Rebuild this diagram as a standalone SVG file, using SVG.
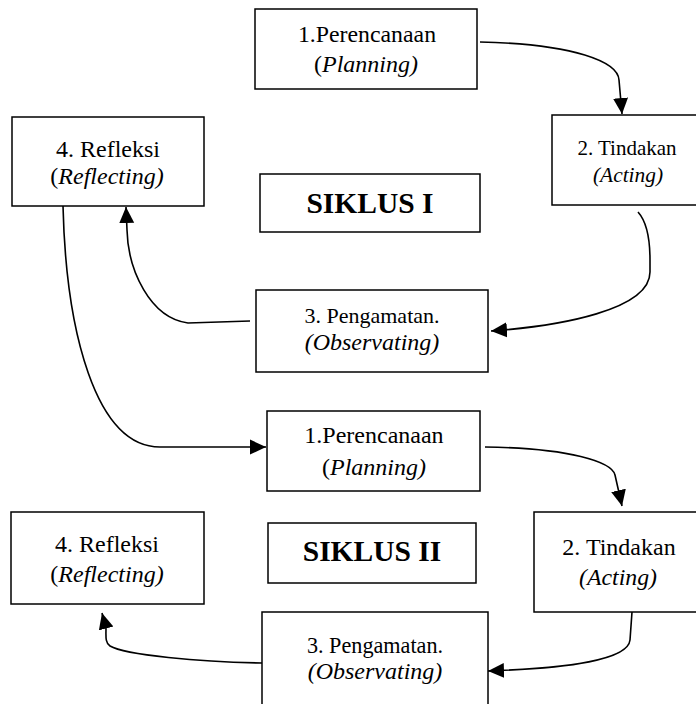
<svg xmlns="http://www.w3.org/2000/svg" width="696" height="704" viewBox="0 0 696 704">
<defs>
<style>
.box{fill:#fff;stroke:#000;stroke-width:1.5}
.t{fill:#000;text-anchor:middle}
.i{font-style:italic}
.b{font-weight:bold;font-size:29.5px}
.c{fill:none;stroke:#000;stroke-width:1.6}
</style>
<marker id="ah" markerUnits="userSpaceOnUse" markerWidth="18" markerHeight="16" refX="16" refY="8" orient="auto">
<path d="M0,0.5 L16,8 L0,15.5 z" fill="#000"/>
</marker>
</defs>
<rect width="696" height="704" fill="#fff"/>

<g id="connectors">
<path class="c" d="M480,42 C575,44 618,62 619,80 L622,114" marker-end="url(#ah)"/>
<path class="c" d="M638,212 C647,222 650,240 650,260 L650,272 C650,310 560,326 491,331" marker-end="url(#ah)"/>
<path class="c" d="M250,321 L188,323 C150,318 128,270 127,230 L126,207" marker-end="url(#ah)"/>
<path class="c" d="M63,206 C66,330 95,447 160,447 L266,447" marker-end="url(#ah)"/>
<path class="c" d="M485,447 C570,448 612,462 615,475 L622,506" marker-end="url(#ah)"/>
<path class="c" d="M632,612 L630,640 C628,660 570,668 488,671" marker-end="url(#ah)"/>
<path class="c" d="M262,663 C200,662 125,655 110,646 C105,643 106,636 106,628 L102,613" marker-end="url(#ah)"/>
</g>

<g font-family="Liberation Serif, DejaVu Serif, serif">
<g id="c1-plan">
<rect class="box" x="255" y="9" width="222" height="80"/>
<text class="t" x="367" y="42" font-size="23.8">1.Perencanaan</text>
<text class="t" x="366" y="72" font-size="24">(<tspan class="i">Planning)</tspan></text>
</g>
<g id="c1-act">
<rect class="box" x="552" y="115" width="146" height="90"/>
<text class="t" x="627" y="155" font-size="21">2. Tindakan</text>
<text class="t i" x="628" y="182" font-size="21.4">(Acting)</text>
</g>
<g id="c1-title">
<rect class="box" x="260" y="174" width="220" height="58"/>
<text class="t b" x="370" y="213">SIKLUS I</text>
</g>
<g id="c1-reflect">
<rect class="box" x="12" y="117" width="192" height="89"/>
<text class="t" x="108" y="157" font-size="24">4. Refleksi</text>
<text class="t" x="107" y="184" font-size="24">(<tspan class="i">Reflecting)</tspan></text>
</g>
<g id="c1-observe">
<rect class="box" x="256" y="290" width="232" height="82"/>
<text class="t" x="372" y="323" font-size="22">3. Pengamatan.</text>
<text class="t i" x="372" y="350" font-size="24">(Observating)</text>
</g>

<g id="c2-plan">
<rect class="box" x="267" y="411" width="213" height="80"/>
<text class="t" x="374" y="443" font-size="24">1.Perencanaan</text>
<text class="t" x="374" y="475" font-size="24">(<tspan class="i">Planning)</tspan></text>
</g>
<g id="c2-act">
<rect class="box" x="534" y="512" width="164" height="100"/>
<text class="t" x="619" y="555" font-size="24">2. Tindakan</text>
<text class="t i" x="618" y="585" font-size="23.8">(Acting)</text>
</g>
<g id="c2-title">
<rect class="box" x="268" y="523" width="208" height="60"/>
<text class="t b" x="372" y="561">SIKLUS II</text>
</g>
<g id="c2-reflect">
<rect class="box" x="11" y="512" width="193" height="92"/>
<text class="t" x="107" y="552" font-size="24">4. Refleksi</text>
<text class="t" x="107" y="582" font-size="24">(<tspan class="i">Reflecting)</tspan></text>
</g>
<g id="c2-observe">
<rect class="box" x="262" y="612" width="226" height="96"/>
<text class="t" x="375" y="653" font-size="22.2">3. Pengamatan.</text>
<text class="t i" x="375" y="679" font-size="24">(Observating)</text>
</g>
</g>
</svg>
